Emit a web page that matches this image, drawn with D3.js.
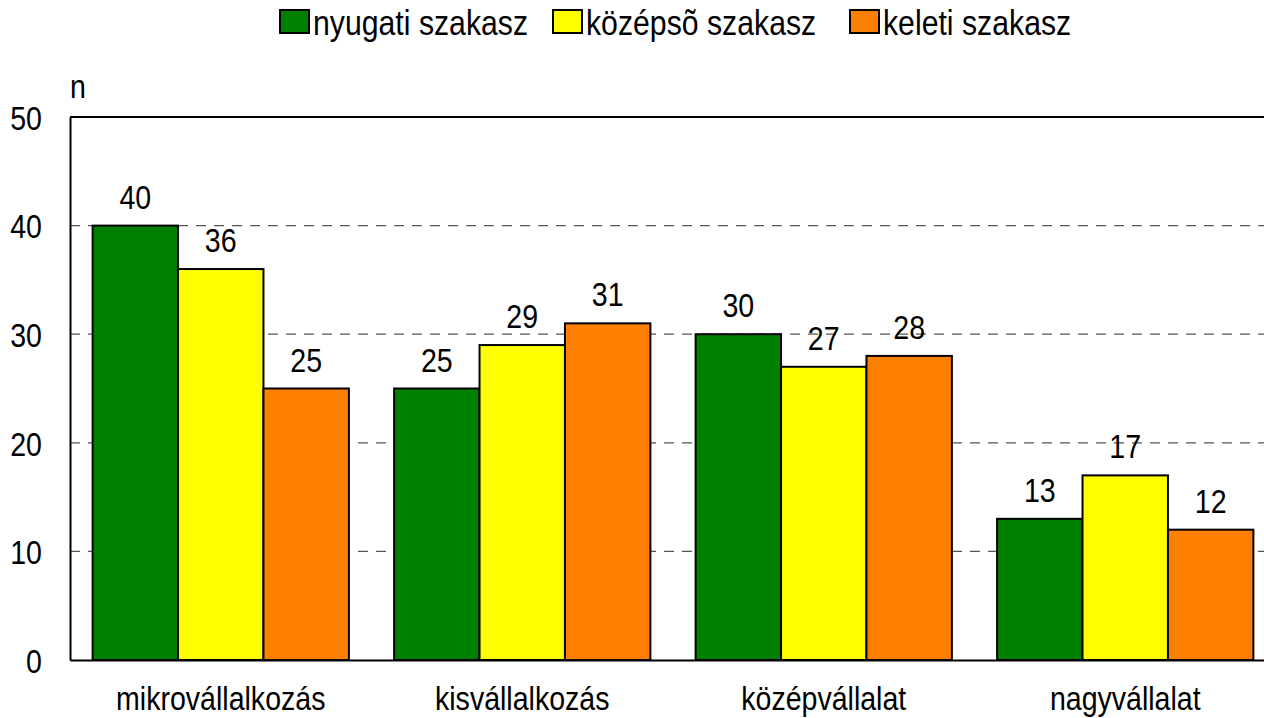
<!DOCTYPE html>
<html lang="hu">
<head>
<meta charset="utf-8">
<title>Vállalatméret szakaszonként</title>
<script src="https://cdn.jsdelivr.net/npm/d3@7"></script>
<style>
  body { margin: 0; background: #fff; }
  svg { display: block; }
  text { font-family: "Liberation Sans Narrow", "Arial Narrow", "Liberation Sans", Arial, sans-serif; fill: #000; }
</style>
</head>
<body>
<script>
// data
var categories = ["mikrovállalkozás", "kisvállalkozás", "középvállalat", "nagyvállalat"];
var seriesNames = ["nyugati szakasz", "középsõ szakasz", "keleti szakasz"];
var nyugati = [40, 25, 30, 13];
var kozepso = [36, 29, 27, 17];
var keleti = [25, 31, 28, 12];
var yTicks = [0, 10, 20, 30, 40, 50];
var colors = ["#008000", "#ffff00", "#ff8000"];

var values = [nyugati, kozepso, keleti];
var W = 1264, H = 718;
var mLeft = 70, mRight = 1276, mTop = 117, mBottom = 660;
var FS = 34, SX = 0.84;   // narrow look: regular font squeezed horizontally

var svg = d3.select("body").append("svg").attr("width", W).attr("height", H);

// place a text at (x,y) and squeeze it
function narrowText(g, x, y, str, anchor, size) {
    return g.append("text")
        .attr("transform", "translate(" + x + "," + y + ") scale(" + SX + ",1)")
        .attr("text-anchor", anchor || "start")
        .attr("font-size", size || FS)
        .text(str);
}

var x0 = d3.scaleBand().domain(categories).range([mLeft, mRight])
    .paddingInner(0.15).paddingOuter(0.075);
var x1 = d3.scaleBand().domain(seriesNames).range([0, x0.bandwidth()]);
var y = d3.scaleLinear().domain([0, 50]).range([mBottom, mTop]);

// grid lines
svg.append("g").selectAll("line")
    .data(yTicks.filter(function(d) { return d > 0 && d < 50; }))
    .enter().append("line")
    .attr("x1", mLeft).attr("x2", mRight)
    .attr("y1", function(d) { return y(d); })
    .attr("y2", function(d) { return y(d); })
    .attr("stroke", "#555").attr("stroke-width", 1.2)
    .attr("stroke-dasharray", "10,8");

// top border
svg.append("line").attr("x1", mLeft).attr("x2", mRight)
    .attr("y1", y(50)).attr("y2", y(50))
    .attr("stroke", "#000").attr("stroke-width", 2);

// bars
categories.forEach(function(c, i) {
    var g = svg.append("g").attr("transform", "translate(" + x0(c) + ",0)");
    seriesNames.forEach(function(s, j) {
        var v = values[j][i];
        g.append("rect")
            .attr("x", x1(s))
            .attr("y", y(v))
            .attr("width", x1.bandwidth())
            .attr("height", y(0) - y(v))
            .attr("fill", colors[j])
            .attr("stroke", "#000").attr("stroke-width", 2);
        narrowText(g, x1(s) + x1.bandwidth() / 2, y(v) - 17, v, "middle");
    });
});

// axes
var yAxis = d3.axisLeft(y).tickValues(yTicks).tickSize(0).tickPadding(0);
var gy = svg.append("g").attr("transform", "translate(" + mLeft + ",0)").call(yAxis);
gy.select(".domain").attr("stroke", "#000").attr("stroke-width", 2);
gy.selectAll("text").attr("font-size", FS).attr("x", null).attr("dy", "0.36em")
    .attr("transform", "translate(-28,0) scale(" + SX + ",1)");

var xAxis = d3.axisBottom(x0).tickSize(0).tickPadding(0);
var gx = svg.append("g").attr("transform", "translate(0," + mBottom + ")").call(xAxis);
gx.select(".domain").attr("stroke", "#000").attr("stroke-width", 2);
gx.selectAll("text").attr("font-size", FS).attr("y", null).attr("dy", null)
    .attr("transform", "translate(0,50) scale(" + SX + ",1)");

// axis title
narrowText(svg, 70, 98, "n");

// legend
var legendX = [280, 553, 850];
seriesNames.forEach(function(s, i) {
    var g = svg.append("g").attr("transform", "translate(" + legendX[i] + ",10)");
    g.append("rect").attr("width", 29).attr("height", 23)
        .attr("fill", colors[i])
        .attr("stroke", "#000").attr("stroke-width", 2);
    narrowText(g, 33, 25, s, "start", 36);
});
</script>
</body>
</html>
